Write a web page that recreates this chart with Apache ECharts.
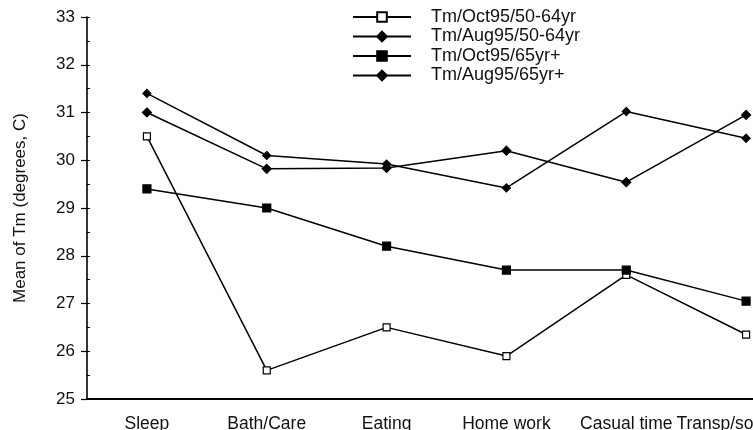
<!DOCTYPE html>
<html>
<head>
<meta charset="utf-8">
<script src="https://cdn.jsdelivr.net/npm/echarts@6/dist/echarts.min.js"></script>
<style>
  html, body { margin: 0; padding: 0; background: #fff; }
  #chart { width: 753px; height: 430px; }
</style>
</head>
<body>
<div id="chart"></div>
<script>
// Activity categories along the x axis
var categories = ['Sleep', 'Bath/Care', 'Eating', 'Home work', 'Casual time', 'Transp/socializing'];

// Mean Tm (degrees C) per activity for each survey group
var octYoung = [30.5, 25.6, 26.5, 25.9, 27.6, 26.35];
var augYoung = [31.4, 30.1, 29.92, 29.42, 31.02, 30.46];
var octOld   = [29.4, 29.0, 28.2, 27.7, 27.7, 27.05];
var augOld   = [31.0, 29.82, 29.84, 30.2, 29.54, 30.95];

var seriesNames = ['Tm/Oct95/50-64yr', 'Tm/Aug95/50-64yr', 'Tm/Oct95/65yr+', 'Tm/Aug95/65yr+'];

// Y axis range and step
var yMin = 25, yMax = 33, yStep = 1;

var FONT = '"Liberation Sans", Arial, Helvetica, sans-serif';
var INK = '#111';

function lineSeries(name, data, symbol, size, fill) {
  return {
    name: name,
    type: 'line',
    data: data,
    symbol: symbol,
    symbolSize: size,
    showAllSymbol: true,
    lineStyle: { color: '#000', width: 1.5 },
    itemStyle: { color: fill, borderColor: '#000', borderWidth: 1.2 },
    emphasis: { disabled: true },
    animation: false
  };
}

var chart = echarts.init(document.getElementById('chart'), null, { renderer: 'canvas' });
chart.setOption({
  backgroundColor: '#fff',
  animation: false,
  // the plot runs past the right edge of the page; the last category sits at the edge
  grid: { left: 87, top: 17, height: 382, width: 719, containLabel: false, outerBoundsMode: 'none' },
  legend: {
    orient: 'vertical',
    left: 347,
    top: 3,
    itemWidth: 58,
    itemHeight: 12,
    itemGap: 1.5,
    textStyle: { fontFamily: FONT, fontSize: 18, color: INK, padding: [0, 0, 0, 15] },
    data: seriesNames
  },
  xAxis: {
    type: 'category',
    data: categories,
    boundaryGap: true,
    axisLine: { lineStyle: { color: '#000', width: 2 } },
    axisTick: { alignWithLabel: true, length: 5, lineStyle: { color: '#000', width: 1.4 } },
    axisLabel: { fontFamily: FONT, fontSize: 17.5, color: INK, margin: 16, interval: 0 },
    splitLine: { show: false }
  },
  yAxis: [{
    type: 'value',
    min: yMin,
    max: yMax,
    interval: yStep,
    name: 'Mean of Tm (degrees, C)',
    nameLocation: 'middle',
    nameRotate: 90,
    nameGap: 58,
    nameTextStyle: { fontFamily: FONT, fontSize: 17, color: INK },
    axisLine: { show: true, lineStyle: { color: '#000', width: 1.6 } },
    axisTick: { show: true, length: 6, lineStyle: { color: '#000', width: 1.2 } },
    axisLabel: { fontFamily: FONT, fontSize: 17, color: INK, margin: 12 },
    splitLine: { show: false }
  }, {
    // half-step ticks drawn on the inner side of the axis
    type: 'value',
    position: 'left',
    min: yMin,
    max: yMax,
    interval: yStep / 2,
    axisLine: { show: false },
    axisTick: { show: true, inside: true, length: 3, lineStyle: { color: '#000', width: 1 } },
    axisLabel: { show: false },
    splitLine: { show: false }
  }],
  series: [
    lineSeries(seriesNames[0], octYoung, 'rect', 7, '#fff'),
    lineSeries(seriesNames[1], augYoung, 'diamond', 8, '#000'),
    lineSeries(seriesNames[2], octOld, 'rect', 8, '#000'),
    lineSeries(seriesNames[3], augOld, 'diamond', 9, '#000')
  ]
});
</script>
</body>
</html>
